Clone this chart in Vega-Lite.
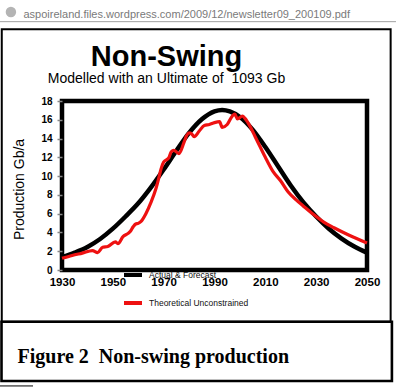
{
  "$schema": "https://vega.github.io/schema/vega-lite/v6.json",
  "width": 305,
  "height": 169,
  "autosize": {"type": "none"},
  "padding": {"left": 62, "top": 101, "right": 29, "bottom": 117},
  "background": "white",
  "config": {
    "view": {"stroke": "black", "strokeWidth": 4.5},
    "font": "Liberation Sans"
  },
  "title": {
    "text": "Non-Swing",
    "subtitle": "Modelled with an Ultimate of\u00a0 1093 Gb",
    "anchor": "middle",
    "frame": "group",
    "font": "Liberation Sans",
    "fontSize": 29,
    "fontWeight": "bold",
    "color": "black",
    "subtitleFont": "Liberation Sans",
    "subtitleFontSize": 14,
    "subtitleColor": "black",
    "subtitlePadding": 0,
    "offset": -79,
    "dx": -48
  },
  "datasets": {
    "frame": [{"item": "decoration"}],
    "actual": [
      {"year": 1930, "value": 1.37, "series": "Actual & Forecast"},
      {"year": 1935, "value": 1.85, "series": "Actual & Forecast"},
      {"year": 1940, "value": 2.45, "series": "Actual & Forecast"},
      {"year": 1945, "value": 3.3, "series": "Actual & Forecast"},
      {"year": 1950, "value": 4.4, "series": "Actual & Forecast"},
      {"year": 1955, "value": 5.7, "series": "Actual & Forecast"},
      {"year": 1960, "value": 7.1, "series": "Actual & Forecast"},
      {"year": 1965, "value": 8.8, "series": "Actual & Forecast"},
      {"year": 1970, "value": 10.7, "series": "Actual & Forecast"},
      {"year": 1975, "value": 12.7, "series": "Actual & Forecast"},
      {"year": 1980, "value": 14.6, "series": "Actual & Forecast"},
      {"year": 1985, "value": 16.05, "series": "Actual & Forecast"},
      {"year": 1990, "value": 16.9, "series": "Actual & Forecast"},
      {"year": 1993, "value": 17.05, "series": "Actual & Forecast"},
      {"year": 1996, "value": 16.9, "series": "Actual & Forecast"},
      {"year": 2000, "value": 16.3, "series": "Actual & Forecast"},
      {"year": 2005, "value": 14.95, "series": "Actual & Forecast"},
      {"year": 2010, "value": 13.1, "series": "Actual & Forecast"},
      {"year": 2015, "value": 11.05, "series": "Actual & Forecast"},
      {"year": 2020, "value": 9.0, "series": "Actual & Forecast"},
      {"year": 2025, "value": 7.2, "series": "Actual & Forecast"},
      {"year": 2030, "value": 5.7, "series": "Actual & Forecast"},
      {"year": 2035, "value": 4.4, "series": "Actual & Forecast"},
      {"year": 2040, "value": 3.35, "series": "Actual & Forecast"},
      {"year": 2045, "value": 2.5, "series": "Actual & Forecast"},
      {"year": 2050, "value": 1.85, "series": "Actual & Forecast"}
    ],
    "theoretical": [
      {"year": 1930, "value": 1.25, "series": "Theoretical Unconstrained"},
      {"year": 1934, "value": 1.55, "series": "Theoretical Unconstrained"},
      {"year": 1938, "value": 1.8, "series": "Theoretical Unconstrained"},
      {"year": 1942, "value": 2.06, "series": "Theoretical Unconstrained"},
      {"year": 1944, "value": 1.85, "series": "Theoretical Unconstrained"},
      {"year": 1946, "value": 2.42, "series": "Theoretical Unconstrained"},
      {"year": 1948, "value": 2.5, "series": "Theoretical Unconstrained"},
      {"year": 1951, "value": 3.0, "series": "Theoretical Unconstrained"},
      {"year": 1952, "value": 2.8, "series": "Theoretical Unconstrained"},
      {"year": 1954, "value": 3.55, "series": "Theoretical Unconstrained"},
      {"year": 1956, "value": 3.9, "series": "Theoretical Unconstrained"},
      {"year": 1957, "value": 4.15, "series": "Theoretical Unconstrained"},
      {"year": 1958, "value": 4.6, "series": "Theoretical Unconstrained"},
      {"year": 1959, "value": 4.9, "series": "Theoretical Unconstrained"},
      {"year": 1960, "value": 4.97, "series": "Theoretical Unconstrained"},
      {"year": 1961, "value": 5.15, "series": "Theoretical Unconstrained"},
      {"year": 1963, "value": 6.0, "series": "Theoretical Unconstrained"},
      {"year": 1965, "value": 7.2, "series": "Theoretical Unconstrained"},
      {"year": 1967, "value": 8.7, "series": "Theoretical Unconstrained"},
      {"year": 1968, "value": 9.7, "series": "Theoretical Unconstrained"},
      {"year": 1969, "value": 10.8, "series": "Theoretical Unconstrained"},
      {"year": 1970, "value": 11.5, "series": "Theoretical Unconstrained"},
      {"year": 1972, "value": 11.95, "series": "Theoretical Unconstrained"},
      {"year": 1973, "value": 12.6, "series": "Theoretical Unconstrained"},
      {"year": 1974, "value": 12.75, "series": "Theoretical Unconstrained"},
      {"year": 1976, "value": 12.4, "series": "Theoretical Unconstrained"},
      {"year": 1978, "value": 13.6, "series": "Theoretical Unconstrained"},
      {"year": 1979, "value": 14.3, "series": "Theoretical Unconstrained"},
      {"year": 1980, "value": 14.6, "series": "Theoretical Unconstrained"},
      {"year": 1981, "value": 14.5, "series": "Theoretical Unconstrained"},
      {"year": 1982, "value": 14.2, "series": "Theoretical Unconstrained"},
      {"year": 1984, "value": 14.8, "series": "Theoretical Unconstrained"},
      {"year": 1986, "value": 15.4, "series": "Theoretical Unconstrained"},
      {"year": 1988, "value": 15.5, "series": "Theoretical Unconstrained"},
      {"year": 1990, "value": 15.7, "series": "Theoretical Unconstrained"},
      {"year": 1992, "value": 15.8, "series": "Theoretical Unconstrained"},
      {"year": 1993, "value": 15.2, "series": "Theoretical Unconstrained"},
      {"year": 1995, "value": 15.5, "series": "Theoretical Unconstrained"},
      {"year": 1997, "value": 16.4, "series": "Theoretical Unconstrained"},
      {"year": 1998, "value": 16.6, "series": "Theoretical Unconstrained"},
      {"year": 1999, "value": 16.1, "series": "Theoretical Unconstrained"},
      {"year": 2001, "value": 16.4, "series": "Theoretical Unconstrained"},
      {"year": 2002, "value": 16.15, "series": "Theoretical Unconstrained"},
      {"year": 2004, "value": 15.3, "series": "Theoretical Unconstrained"},
      {"year": 2006, "value": 14.2, "series": "Theoretical Unconstrained"},
      {"year": 2008, "value": 13.1, "series": "Theoretical Unconstrained"},
      {"year": 2010, "value": 12.0, "series": "Theoretical Unconstrained"},
      {"year": 2013, "value": 10.5, "series": "Theoretical Unconstrained"},
      {"year": 2016, "value": 9.5, "series": "Theoretical Unconstrained"},
      {"year": 2019, "value": 8.3, "series": "Theoretical Unconstrained"},
      {"year": 2022, "value": 7.5, "series": "Theoretical Unconstrained"},
      {"year": 2025, "value": 6.8, "series": "Theoretical Unconstrained"},
      {"year": 2029, "value": 5.9, "series": "Theoretical Unconstrained"},
      {"year": 2033, "value": 5.1, "series": "Theoretical Unconstrained"},
      {"year": 2037, "value": 4.5, "series": "Theoretical Unconstrained"},
      {"year": 2043, "value": 3.7, "series": "Theoretical Unconstrained"},
      {"year": 2050, "value": 2.87, "series": "Theoretical Unconstrained"}
    ]
  },
  "resolve": {"axis": {"x": "independent", "y": "independent"}},
  "layer": [
    {
      "data": {"name": "frame"},
      "mark": {"type": "rect", "fillOpacity": 0, "stroke": "black", "strokeWidth": 2},
      "encoding": {
        "x": {"datum": 1906.3, "type": "quantitative", "scale": {"domain": [1930, 2050], "nice": false, "zero": false}, "axis": null},
        "x2": {"datum": 2059.3},
        "y": {"datum": 25.64, "type": "quantitative", "scale": {"domain": [0, 18], "nice": false, "zero": false}, "axis": null},
        "y2": {"datum": -5.51}
      }
    },
    {
      "data": {"name": "frame"},
      "mark": {"type": "rect", "fillOpacity": 0, "stroke": "black", "strokeWidth": 2.6},
      "encoding": {
        "x": {"datum": 1906.2, "type": "quantitative", "scale": {"domain": [1930, 2050], "nice": false, "zero": false}, "axis": null},
        "x2": {"datum": 2059.8},
        "y": {"datum": -5.51, "type": "quantitative", "scale": {"domain": [0, 18], "nice": false, "zero": false}, "axis": null},
        "y2": {"datum": -11.82}
      }
    },
    {
      "data": {"name": "frame"},
      "mark": {"type": "rule", "stroke": "black", "strokeWidth": 1},
      "encoding": {
        "x": {"datum": 1905.6, "type": "quantitative", "scale": {"domain": [1930, 2050], "nice": false, "zero": false}, "axis": null},
        "x2": {"datum": 1918.6},
        "y": {"datum": -12.35, "type": "quantitative", "scale": {"domain": [0, 18], "nice": false, "zero": false}, "axis": null}
      }
    },
    {
      "data": {"name": "frame"},
      "mark": {"type": "point", "filled": true, "color": "#b4b4b4", "size": 110, "opacity": 1},
      "encoding": {
        "x": {"datum": 1909.9, "type": "quantitative", "scale": {"domain": [1930, 2050], "nice": false, "zero": false}, "axis": null},
        "y": {"datum": 27.48, "type": "quantitative", "scale": {"domain": [0, 18], "nice": false, "zero": false}, "axis": null}
      }
    },
    {
      "data": {"name": "frame"},
      "mark": {"type": "rule", "stroke": "#a0a0a0", "strokeWidth": 1},
      "encoding": {
        "x": {
          "datum": 1905.6, "type": "quantitative",
          "scale": {"domain": [1930, 2050], "nice": false, "zero": false},
          "axis": {
            "orient": "top",
            "title": "aspoireland.files.wordpress.com/2009/12/newsletter09_200109.pdf",
            "labels": false, "ticks": false, "domain": false, "grid": false,
            "titleFont": "Liberation Sans", "titleFontSize": 11, "titleFontWeight": "normal",
            "titleColor": "#7a7a7a", "titleX": -39, "titleY": -84,
            "titleAlign": "left", "titleBaseline": "alphabetic", "titleAnchor": "start"
          }
        },
        "x2": {"datum": 2061.4},
        "y": {"datum": 26.45, "type": "quantitative", "scale": {"domain": [0, 18], "nice": false, "zero": false}, "axis": null}
      }
    },
    {
      "data": {"name": "actual"},
      "mark": {"type": "line", "interpolate": "monotone", "strokeWidth": 4.5},
      "encoding": {
        "x": {
          "field": "year", "type": "quantitative",
          "scale": {"domain": [1930, 2050], "nice": false, "zero": false},
          "axis": {
            "orient": "bottom",
            "values": [1930, 1950, 1970, 1990, 2010, 2030, 2050],
            "format": "d",
            "labelFont": "Liberation Sans", "labelFontSize": 11.5, "labelFontWeight": "bold", "labelColor": "black",
            "labelPadding": 6, "labelFlush": false, "labelOverlap": false,
            "ticks": false, "domain": false, "grid": false,
            "title": "Figure 2\u00a0 Non-swing production",
            "titleFont": "Liberation Serif", "titleFontSize": 20, "titleFontWeight": "bold", "titleColor": "black",
            "titleX": -45, "titleY": 92, "titleAlign": "left", "titleBaseline": "alphabetic", "titleAnchor": "start"
          }
        },
        "y": {
          "field": "value", "type": "quantitative",
          "scale": {"domain": [0, 18], "nice": false, "zero": false},
          "axis": {
            "orient": "left",
            "values": [0, 2, 4, 6, 8, 10, 12, 14, 16, 18],
            "labelFont": "Liberation Sans", "labelFontSize": 10, "labelFontWeight": "bold", "labelColor": "black",
            "labelPadding": 5, "tickColor": "#888888", "tickSize": 5, "tickWidth": 1.5,
            "domain": false, "grid": false,
            "title": "Production Gb/a",
            "titleFont": "Liberation Sans", "titleFontSize": 14, "titleFontWeight": "normal", "titleColor": "black",
            "titleX": -43, "titleY": 88, "titleAngle": 270, "titleAlign": "center", "titleBaseline": "middle"
          }
        },
        "color": {
          "field": "series", "type": "nominal",
          "scale": {"domain": ["Actual & Forecast", "Theoretical Unconstrained"], "range": ["#000000", "#ee1111"]},
          "legend": {
            "orient": "none", "legendX": 60, "legendY": 163, "direction": "vertical", "title": null,
            "symbolType": "stroke", "symbolSize": 324, "symbolStrokeWidth": 4,
            "labelFont": "Liberation Sans", "labelFontSize": 8.5, "labelColor": "#111111",
            "rowPadding": 9, "labelOffset": 5, "padding": 0
          }
        }
      }
    },
    {
      "data": {"name": "theoretical"},
      "mark": {"type": "line", "interpolate": "monotone", "strokeWidth": 3.2},
      "encoding": {
        "x": {"field": "year", "type": "quantitative", "scale": {"domain": [1930, 2050], "nice": false, "zero": false}, "axis": null},
        "y": {"field": "value", "type": "quantitative", "scale": {"domain": [0, 18], "nice": false, "zero": false}, "axis": null},
        "color": {
          "field": "series", "type": "nominal",
          "scale": {"domain": ["Actual & Forecast", "Theoretical Unconstrained"], "range": ["#000000", "#ee1111"]}
        }
      }
    }
  ]
}
